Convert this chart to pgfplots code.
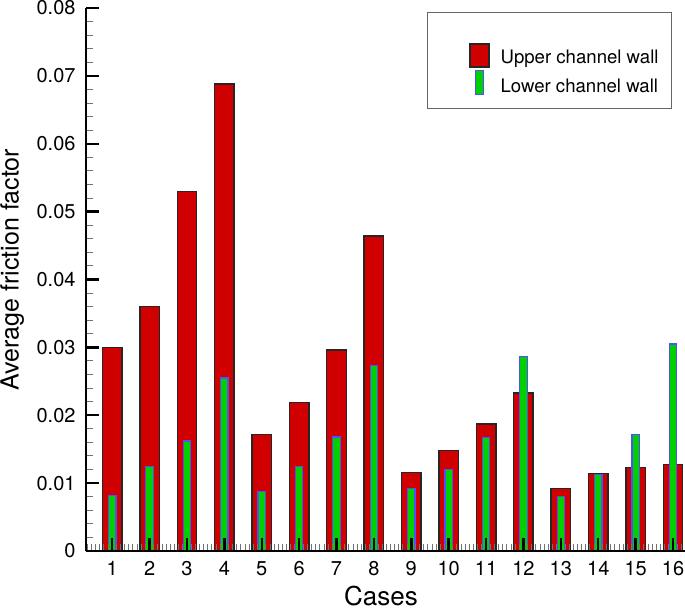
\documentclass[border=0pt]{standalone}
\usepackage{fontspec}
\setmainfont{TeX Gyre Heros}
\usepackage{pgfplots}
\usepackage{pgfplotstable}
\pgfplotsset{compat=1.18}
\definecolor{barred}{RGB}{208,0,0}
\definecolor{bargreen}{RGB}{0,208,0}
\definecolor{barblue}{RGB}{80,80,255}

\pgfplotsset{
  redleg/.style={legend image code/.code={%
      \path (-16.5pt,0) (13pt,0) (0,18pt);
      \draw[##1] (0pt,-4.5pt) rectangle (9.5pt,7pt);}},
  greenleg/.style={legend image code/.code={%
      \path (-16.5pt,0) (13pt,0) (0,-5.9pt);
      \draw[##1] (2.85pt,-3.5pt) rectangle (6.65pt,8.3pt);}},
}

\pgfplotstableread{
x upper lower
1 0.0300 0.0082
2 0.0360 0.0124
3 0.0530 0.0162
4 0.0688 0.0255
5 0.0172 0.0088
6 0.0219 0.0125
7 0.0296 0.0168
8 0.0464 0.0273
9 0.0116 0.0092
10 0.0148 0.0120
11 0.0187 0.0167
12 0.0233 0.0286
13 0.0092 0.0080
14 0.0114 0.0113
15 0.0123 0.0172
16 0.0127 0.0305
}\datatable

\begin{document}
\begin{tikzpicture}
\begin{axis}[
  scale only axis, width=299.5pt, height=271.5pt,
  xmin=0.3, xmax=16.32, ymin=0, ymax=0.08,
  axis x line=bottom, axis y line=left,
  axis line style={-, line width=1pt, black},
  axis on top,
  xtick={1,...,16},
  minor xtick={0.33333,0.44444,...,16.3},
  ytick={0,0.01,0.02,0.03,0.04,0.05,0.06,0.07,0.08},
  yticklabels={0,0.01,0.02,0.03,0.04,0.05,0.06,0.07,0.08},
  minor y tick num=4,
  tick align=inside,
  major tick length=6.5pt, minor tick length=3.5pt,
  every major tick/.style={black, line width=1.2pt},
  every minor tick/.style={black!55, line width=0.5pt},
  tick label style={font=\fontsize{10}{12}\selectfont},
  /pgf/number format/assume math mode=true,
  xticklabel style={yshift=-1.7pt},
  yticklabel style={xshift=-1.7pt},
  legend cell align=left,
  legend style={at={(0.9783,0.993)}, anchor=north east,
    draw=black!60, line width=0.5pt, fill=white,
    inner xsep=4.5pt, inner ysep=4.5pt,
    font=\fontsize{9.3}{11}\selectfont},
]
\addplot[ybar, bar width=0.52, bar shift=0pt, fill=barred, draw=black!85,
  line width=0.7pt, redleg] table[x=x, y=upper]{\datatable};
\addlegendentry{Upper channel wall}
\addplot[ybar, bar width=0.2, bar shift=0pt, fill=bargreen, draw=barblue,
  line width=0.6pt, greenleg] table[x=x, y=lower]{\datatable};
\addlegendentry{Lower channel wall}
\end{axis}
\node[rotate=90, anchor=base, font=\fontsize{12.5}{15}\selectfont]
  at ([xshift=-33.7pt,yshift=5pt]current axis.west) {Average friction factor};
\node[anchor=base, font=\fontsize{13}{15}\selectfont]
  at ([xshift=-2.25pt,yshift=-27.5pt]current axis.south) {Cases};
\pgfresetboundingbox
\useasboundingbox ([xshift=-43pt,yshift=-29pt]current axis.south west)
  rectangle ([yshift=4pt]current axis.north east);
\end{tikzpicture}
\end{document}
